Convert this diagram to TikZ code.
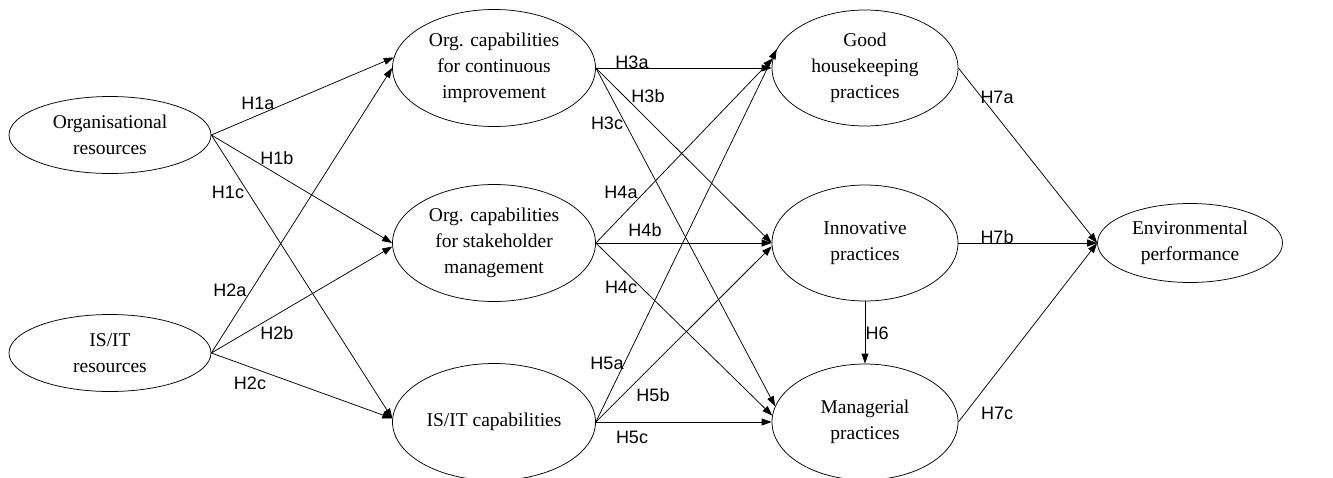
\documentclass[tikz,border=0pt]{standalone}
\usepackage{fontspec}
\setmainfont{Liberation Serif}
\newfontfamily\lblfont{Liberation Sans}
\usetikzlibrary{shapes.geometric,arrows.meta}
\begin{document}
\begin{tikzpicture}[x=1pt,y=-1pt,
  construct/.style={ellipse,draw,line width=0.75pt,inner sep=0pt,align=center,
    font=\fontsize{19.5}{26}\selectfont},
  small/.style={construct,minimum width=202pt,minimum height=77pt},
  big/.style={construct,minimum width=203pt,minimum height=117pt},
  mid/.style={construct,minimum width=186pt,minimum height=116pt},
  path/.style={draw,line width=0.75pt,-{Triangle[length=10pt,width=7pt]}},
  hyp/.style={font=\lblfont\fontsize{18}{20}\selectfont,inner sep=1pt}]
\useasboundingbox (0,0) rectangle (1333,477);

% constructs
\node[small] (orgres) at (110,135) {Organisational\\resources};
\node[small] (itres)  at (110,353) {IS/IT\\resources};
\node[big] (occi) at (494,68)  {Org. capabilities\\for continuous\\improvement};
\node[big] (ocsm) at (494,243) {Org. capabilities\\for stakeholder\\management};
\node[big] (itcap) at (494,422) {IS/IT capabilities};
\node[mid] (good) at (865,68)  {Good\\housekeeping\\practices};
\node[mid] (innov) at (865,243) {Innovative\\practices};
\node[mid] (manag) at (865,422) {Managerial\\practices};
\node[construct,minimum width=185pt,minimum height=79pt] (envp) at (1190,243) {Environmental\\performance};

% resources -> capabilities
\draw[path] (orgres.east) -- (occi.174);
\draw[path] (orgres.east) -- (ocsm.west);
\draw[path] (orgres.east) -- (itcap.178);
\draw[path] (itres.east) -- (occi.west);
\draw[path] (itres.east) -- (ocsm.182);
\draw[path] (itres.east) -- (itcap.178);

% capabilities -> practices
\draw[path] (occi.east) -- (good.west);
\draw[path] (occi.east) -- (innov.west);
\draw[path] (occi.east) -- (manag.170);
\draw[path] (ocsm.east) -- (good.174);
\draw[path] (ocsm.east) -- (innov.west);
\draw[path] (ocsm.east) -- (manag.176);
\draw[path] (itcap.east) -- (good.168);
\draw[path] (itcap.east) -- (innov.182);
\draw[path] (itcap.east) -- (manag.west);

% practices -> performance
\draw[path] (innov.south) -- (manag.north);
\draw[path] (good.east) -- (envp.west);
\draw[path] (innov.east) -- (envp.west);
\draw[path] (manag.east) -- (envp.west);

% hypothesis labels
\node[hyp] (h1a) at (258,103) {H1a};
\node[hyp] (h1b) at (277,158) {H1b};
\node[hyp] (h1c) at (228,192) {H1c};
\node[hyp] (h2a) at (230,290) {H2a};
\node[hyp] (h2b) at (277,333) {H2b};
\node[hyp] (h2c) at (250,383) {H2c};
\node[hyp] (h3a) at (632,62)  {H3a};
\node[hyp] (h3b) at (648,96)  {H3b};
\node[hyp] (h3c) at (607,123) {H3c};
\node[hyp] (h4a) at (621,192) {H4a};
\node[hyp] (h4b) at (645,230) {H4b};
\node[hyp] (h4c) at (621,287) {H4c};
\node[hyp] (h5a) at (607,363) {H5a};
\node[hyp] (h5b) at (653,395) {H5b};
\node[hyp] (h5c) at (632,437) {H5c};
\node[hyp] (h6)  at (877,333) {H6};
\node[hyp] (h7a) at (997,97)  {H7a};
\node[hyp] (h7b) at (997,237) {H7b};
\node[hyp] (h7c) at (997,413) {H7c};
\end{tikzpicture}
\end{document}
